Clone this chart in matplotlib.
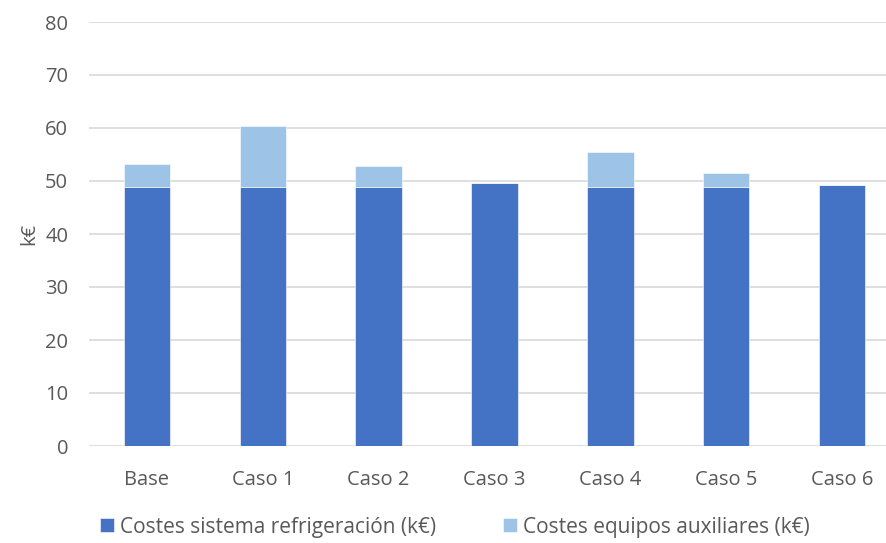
import matplotlib.pyplot as plt
import numpy as np

# Costes por caso (k€)
casos = ["Base", "Caso 1", "Caso 2", "Caso 3", "Caso 4", "Caso 5", "Caso 6"]
refrigeracion = [48.9, 48.9, 48.9, 49.6, 48.9, 48.9, 49.3]
auxiliares = [4.4, 11.5, 4.0, 0.0, 6.5, 2.7, 0.0]

plt.rcParams['font.family'] = ['Open Sans', 'DejaVu Sans']
gris = '#595959'
fs = 14.5

fig = plt.figure(figsize=(8.87, 5.43), dpi=100)
# el área de trazado se sale un poco por la derecha
ax = fig.add_axes([89 / 887, 97 / 543, 811 / 887, 424 / 543])

x = np.arange(len(casos))
ax.bar(x, refrigeracion, width=0.4, color='#4472C4', edgecolor='white',
       linewidth=0.4, label='Costes sistema refrigeración (k€)', zorder=3)
ax.bar(x, auxiliares, width=0.4, bottom=refrigeracion, color='#9DC3E6',
       edgecolor='white', linewidth=0.4,
       label='Costes equipos auxiliares (k€)', zorder=3)

ax.set_ylim(0, 80)
ax.set_xlim(-0.5, len(casos) - 0.5)
ax.set_yticks(range(0, 81, 10))
ax.set_xticks(x)
ax.set_xticklabels(casos)
ax.grid(axis='y', color='#D9D9D9', linewidth=1.2, zorder=0)
for s in ax.spines.values():
    s.set_visible(False)
ax.tick_params(length=0, colors=gris, labelsize=fs)
ax.tick_params(axis='y', pad=15)
ax.tick_params(axis='x', pad=17)
ax.set_ylabel('k€', color=gris, fontsize=fs, labelpad=4)

leg = ax.legend(loc='center', ncol=2, frameon=False, fontsize=15,
                labelcolor=gris, handlelength=0.65, handleheight=0.65,
                handletextpad=0.3, columnspacing=3.2)
# centrar la leyenda respecto a la figura, no al eje
leg.set_bbox_to_anchor((0.513, 16 / 543), transform=fig.transFigure)

fig.savefig('out.png', dpi=100)
